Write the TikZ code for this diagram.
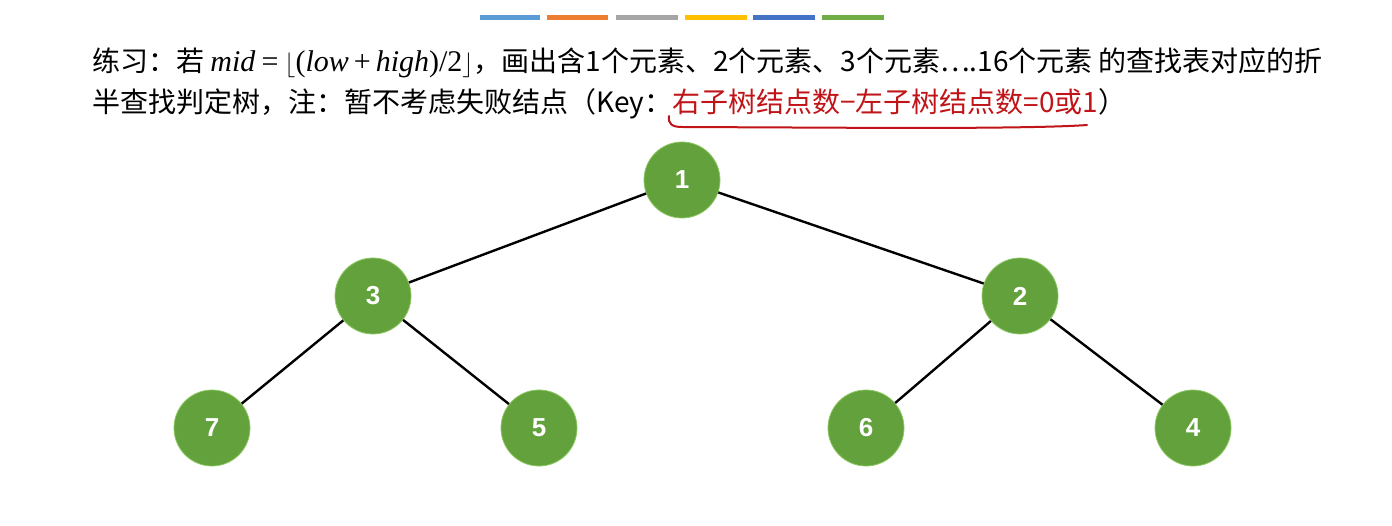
\documentclass[tikz,border=0pt]{standalone}
\usepackage{fontspec}
\setmainfont{Liberation Sans}
\newfontfamily\cjk{Noto Sans CJK SC}
\newfontfamily\tms{Liberation Serif}
\definecolor{nodegreen}{RGB}{99,161,60}
\definecolor{nodeedge}{RGB}{140,200,100}
\definecolor{keyred}{RGB}{192,20,24}
\definecolor{barA}{HTML}{5B9BD5}
\definecolor{barB}{HTML}{ED7D31}
\definecolor{barC}{HTML}{A5A5A5}
\definecolor{barD}{HTML}{FFC000}
\definecolor{barE}{HTML}{4472C4}
\definecolor{barF}{HTML}{70AD47}
\newcommand{\mth}[1]{{\fontsize{30}{32}\selectfont\tms #1}}
\tikzset{
  treenode/.style={circle, fill=nodegreen, draw=nodeedge, line width=0.8pt, minimum size=76pt, inner sep=0pt, text=white, font=\fontsize{26}{26}\selectfont\bfseries},
  treeedge/.style={draw=black, line width=2.4pt},
  bar/.style={line width=5pt, line cap=butt},
  txt/.style={anchor=base west, inner sep=0pt, font=\fontsize{28}{32}\selectfont\cjk}
}
\begin{document}
\begin{tikzpicture}[x=1pt,y=-1pt]
\useasboundingbox (0,0) rectangle (1392,526);
\fill[white] (0,0) rectangle (1392,526);
% colour bars
\draw[bar,barA] (480,18) -- (540,18);
\draw[bar,barB] (547,18) -- (608,18);
\draw[bar,barC] (616,18) -- (678,18);
\draw[bar,barD] (685,18) -- (747,18);
\draw[bar,barE] (753,18) -- (815,18);
\draw[bar,barF] (822,18) -- (884,18);
% text
\node[txt] (l1) at (92,72) {练习：若 \mth{\textit{mid}\hspace{6pt}=\hspace{6pt}$\big\lfloor$(\textit{low}\hspace{5pt}+\hspace{5pt}\textit{high})/2$\big\rfloor$}，画出含1个元素、2个元素、3个元素….16个元素 的查找表对应的折};
\node[txt] (l2) at (92,113) {半查找判定树，注：暂不考虑失败结点（Key：\textcolor{keyred}{右子树结点数−左子树结点数=0或1}）};
\draw[keyred, line width=2pt, line cap=round] (669,116) .. controls (668,124) and (672,127) .. (682,127) -- (900,128) .. controls (1000,128) and (1060,127) .. (1087,125);
% tree
\node[treenode] (n1) at (682,180) {1};
\node[treenode] (n3) at (373,296) {3};
\node[treenode] (n2) at (1020,296) {2};
\node[treenode] (n7) at (212,428) {7};
\node[treenode] (n5) at (539,428) {5};
\node[treenode] (n6) at (866,428) {6};
\node[treenode] (n4) at (1193,428) {4};
\path[treeedge] (n1) -- (n3);
\path[treeedge] (n1) -- (n2);
\path[treeedge] (n3) -- (n7);
\path[treeedge] (n3) -- (n5);
\path[treeedge] (n2) -- (n6);
\path[treeedge] (n2) -- (n4);
\end{tikzpicture}
\end{document}
